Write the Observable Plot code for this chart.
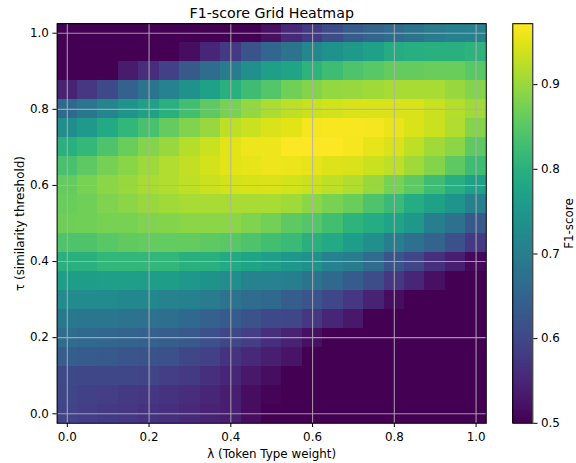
<!DOCTYPE html>
<html>
<head>
<meta charset="utf-8">
<script src="https://cdn.jsdelivr.net/npm/d3@7"></script>
<script src="https://cdn.jsdelivr.net/npm/@observablehq/plot@0.6"></script>
<style>
html,body{margin:0;padding:0;background:#fff;}
#chart{position:relative;width:576px;height:463px;overflow:hidden;}
#chart svg{position:absolute;left:0;top:0;background:transparent;}
</style>
</head>
<body>
<div id="chart"></div>
<script>
const lambdas = [0,.05,.1,.15,.2,.25,.3,.35,.4,.45,.5,.55,.6,.65,.7,.75,.8,.85,.9,.95,1];
const taus = [1,.95,.9,.85,.8,.75,.7,.65,.6,.55,.5,.45,.4,.35,.3,.25,.2,.15,.1,.05,0];
const f1Rows = [
 [.5,.5,.5,.5,.5,.5,.5,.5,.5,.5,.52,.555,.58,.61,.635,.65,.665,.68,.695,.705,.71],
 [.5,.5,.5,.5,.5,.5,.515,.55,.58,.62,.655,.68,.72,.74,.755,.77,.79,.795,.8,.8,.805],
 [.5,.5,.5,.535,.56,.59,.63,.665,.695,.735,.765,.775,.805,.825,.84,.85,.86,.86,.865,.865,.85],
 [.545,.575,.605,.645,.68,.71,.74,.77,.8,.825,.845,.87,.885,.895,.9,.905,.91,.91,.91,.9,.885],
 [.66,.685,.715,.745,.77,.8,.83,.855,.875,.895,.912,.925,.935,.94,.945,.945,.945,.945,.935,.92,.905],
 [.73,.755,.785,.81,.835,.86,.88,.9,.925,.935,.945,.95,.965,.967,.967,.965,.957,.945,.935,.915,.885],
 [.8,.815,.84,.865,.885,.9,.92,.935,.95,.96,.96,.97,.972,.972,.965,.955,.945,.925,.905,.89,.855],
 [.835,.855,.873,.888,.902,.915,.928,.94,.95,.955,.96,.958,.955,.947,.945,.935,.925,.905,.885,.855,.825],
 [.86,.875,.89,.9,.91,.915,.925,.935,.94,.943,.945,.94,.935,.925,.915,.9,.875,.855,.825,.795,.77],
 [.865,.87,.88,.89,.9,.905,.91,.91,.91,.91,.91,.905,.89,.875,.865,.84,.82,.79,.77,.745,.705],
 [.868,.87,.875,.875,.88,.885,.89,.89,.89,.88,.872,.855,.845,.83,.805,.79,.775,.75,.7,.675,.63],
 [.84,.84,.85,.857,.858,.858,.858,.855,.85,.84,.83,.82,.8,.785,.76,.735,.7,.675,.65,.615,.58],
 [.8,.8,.81,.81,.81,.81,.8,.8,.785,.775,.762,.75,.74,.71,.695,.665,.625,.6,.565,.54,.51],
 [.76,.76,.765,.765,.76,.76,.75,.74,.73,.71,.71,.7,.68,.66,.635,.61,.575,.55,.52,.5,.5],
 [.725,.725,.725,.72,.72,.71,.705,.695,.68,.665,.66,.64,.625,.6,.575,.545,.515,.5,.5,.5,.5],
 [.69,.685,.685,.68,.675,.67,.66,.645,.635,.62,.605,.6,.575,.55,.53,.5,.5,.5,.5,.5,.5],
 [.665,.66,.655,.65,.645,.64,.63,.615,.6,.585,.565,.545,.52,.5,.5,.5,.5,.5,.5,.5,.5],
 [.64,.635,.63,.625,.62,.615,.6,.59,.57,.555,.54,.525,.5,.5,.5,.5,.5,.5,.5,.5,.5],
 [.605,.6,.6,.6,.595,.585,.58,.565,.55,.53,.515,.5,.5,.5,.5,.5,.5,.5,.5,.5,.5],
 [.6,.59,.585,.58,.575,.57,.56,.55,.54,.515,.505,.5,.5,.5,.5,.5,.5,.5,.5,.5,.5],
 [.595,.585,.58,.575,.57,.565,.555,.545,.54,.515,.5,.5,.5,.5,.5,.5,.5,.5,.5,.5,.5]
];
const axisTicks = [0,.2,.4,.6,.8,1];
const colorTicks = [.5,.6,.7,.8,.9];
const colorMin = .5, colorMax = .972, half = .025;
const cells = taus.flatMap((tau,j)=>lambdas.map((lambda,i)=>({lambda,tau,f1:f1Rows[j][i]})));
const colorScale = {type:"linear",scheme:"viridis",domain:[colorMin,colorMax],clamp:true};
const fmt = d3.format(".1f");
const style = {fontFamily:"'DejaVu Sans'",fontSize:"11.9px",background:"transparent",color:"#000"};
const grid = {stroke:"#b0b0b0",strokeWidth:1.1,strokeOpacity:.85};

const main = Plot.plot({
  width:576,height:463,style,
  marginLeft:56.6,marginRight:90.2,marginTop:23.2,marginBottom:40.2,
  x:{domain:[-half,1+half]},
  y:{domain:[-half,1+half]},
  color:colorScale,
  marks:[
    Plot.rect(cells,{x1:d=>d.lambda-half,x2:d=>d.lambda+half,y1:d=>d.tau-half,y2:d=>d.tau+half,fill:"f1",shapeRendering:"crispEdges"}),
    Plot.gridX(axisTicks,grid),
    Plot.gridY(axisTicks,grid),
    Plot.frame({stroke:"#000",strokeWidth:1}),
    Plot.axisX(axisTicks,{tickSize:4.2,tickPadding:5,tickFormat:fmt,stroke:"#000",fontSize:11.9,label:"λ (Token Type weight)",labelAnchor:"center",labelArrow:"none",labelOffset:35}),
    Plot.axisY(axisTicks,{tickSize:4.2,tickPadding:4,tickFormat:fmt,stroke:"#000",fontSize:11.9,label:"τ (similarity threshold)",labelAnchor:"center",labelArrow:"none",labelOffset:42}),
    Plot.text(["F1-score Grid Heatmap"],{frameAnchor:"top",dy:-16,fontSize:14.2,fill:"#000"})
  ]
});

const levels = d3.range(256).map(i=>colorMin+(colorMax-colorMin)*i/256);
const step = (colorMax-colorMin)/256;
const bar = Plot.plot({
  width:576,height:463,style,
  marginLeft:512.3,marginRight:43.7,marginTop:23.2,marginBottom:40.2,
  x:{axis:null,domain:[0,1]},
  y:{domain:[colorMin,colorMax]},
  color:colorScale,
  marks:[
    Plot.rect(levels,{x1:()=>0,x2:()=>1,y1:d=>d,y2:d=>d+step,fill:d=>d+step/2,shapeRendering:"crispEdges"}),
    Plot.frame({stroke:"#000",strokeWidth:1}),
    Plot.axisY(colorTicks,{anchor:"right",tickSize:4.2,tickPadding:4,tickFormat:fmt,stroke:"#000",fontSize:11.9,label:"F1-score",labelAnchor:"center",labelArrow:"none",labelOffset:40})
  ]
});
const host = document.getElementById("chart");
host.append(main,bar);
</script>
</body>
</html>
